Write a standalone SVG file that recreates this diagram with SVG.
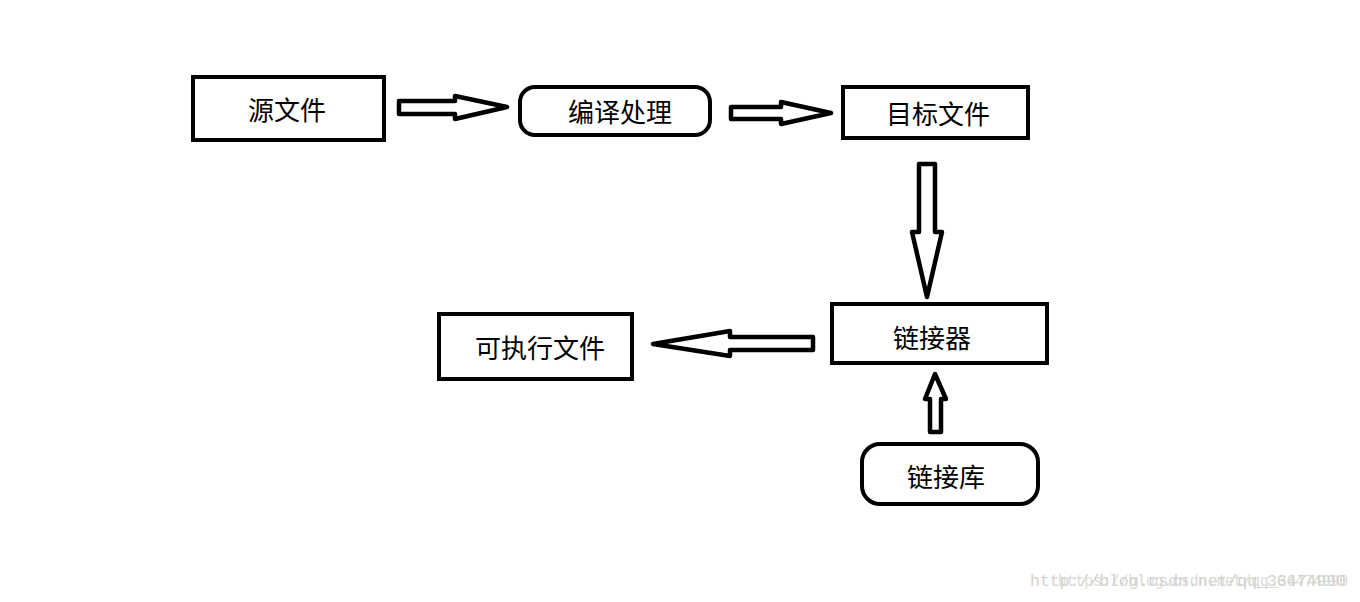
<svg xmlns="http://www.w3.org/2000/svg" width="1360" height="602" viewBox="0 0 1360 602">
<style>
.box{fill:#fff;stroke:#000;stroke-width:4}
.arr{fill:#fff;stroke:#000;stroke-width:4.5;stroke-linejoin:round}
.t{font-family:"Noto Sans CJK SC","Noto Sans",sans-serif;font-size:26px;fill:#000;text-anchor:middle;dominant-baseline:central}
.wm{font-family:"Liberation Mono","DejaVu Sans Mono",monospace;font-size:16px;fill:#d2d2cc}
</style>
<rect width="1360" height="602" fill="#fff"/>
<g id="connectors">
<polygon class="arr" points="399,101 455,101 455,96 507,107 455,119 455,114 399,114"/>
<polygon class="arr" points="731,107 781,107 781,102 831,113 781,124 781,119 731,119"/>
<polygon class="arr" points="919,164 935,164 935,232 942,232 927,297 912,232 919,232"/>
<polygon class="arr" points="813,337 730,337 730,331 653,344 730,356 730,350 813,350"/>
<polygon class="arr" points="930,432 941,432 941,399 946,399 935,374 925,399 930,399"/>
</g>
<g id="src"><rect class="box" x="193" y="77" width="191" height="63"/><text class="t" x="287" y="108">源文件</text></g>
<g id="compile"><rect class="box" x="520" y="87" width="190" height="48" rx="15"/><text class="t" x="620" y="110">编译处理</text></g>
<g id="obj"><rect class="box" x="843" y="87" width="185" height="51"/><text class="t" x="938" y="112">目标文件</text></g>
<g id="linker"><rect class="box" x="832" y="304" width="215" height="59"/><text class="t" x="932" y="336">链接器</text></g>
<g id="exe"><rect class="box" x="439" y="314" width="193" height="65"/><text class="t" x="540" y="346">可执行文件</text></g>
<g id="lib"><rect class="box" x="862" y="444" width="176" height="60" rx="18"/><text class="t" x="946" y="475">链接库</text></g>
<text class="wm" x="1030" y="586" textLength="316" lengthAdjust="spacingAndGlyphs">http://blog.csdn.net/qq_36474990</text>
<text class="wm" x="1058" y="586" textLength="290" lengthAdjust="spacingAndGlyphs" opacity="0.8">https://blog.csdn.net/qq_36474990</text>
</svg>
